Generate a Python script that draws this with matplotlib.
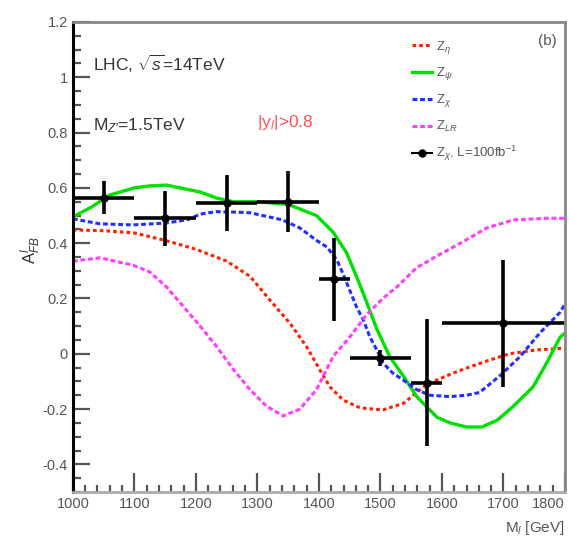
import numpy as np
import matplotlib
matplotlib.use('Agg')
from matplotlib import pyplot as plt
from matplotlib.ticker import MultipleLocator
from matplotlib.lines import Line2D

plt.rcParams['font.family'] = ['Liberation Sans', 'DejaVu Sans']
plt.rcParams['mathtext.fontset'] = 'custom'
plt.rcParams['mathtext.rm'] = 'Liberation Sans'
plt.rcParams['mathtext.it'] = 'Liberation Sans:italic'

# curves
x_eta = [1000, 1050, 1100, 1150, 1200, 1250, 1288, 1320, 1353, 1380, 1402, 1418, 1439,
         1467, 1504, 1537, 1559, 1576, 1597, 1618, 1646, 1673, 1710, 1754, 1800]
y_eta = [0.448, 0.445, 0.437, 0.41, 0.378, 0.335, 0.28, 0.195, 0.11, 0.025, -0.06, -0.12, -0.167,
         -0.196, -0.203, -0.18, -0.14, -0.11, -0.09, -0.07, -0.047, -0.026, 0.0, 0.014, 0.02]

x_psi = [1000, 1030, 1060, 1100, 1125, 1152, 1207, 1234, 1260, 1300, 1350, 1396, 1423, 1445,
         1461, 1477, 1494, 1515, 1537, 1559, 1592, 1613, 1640, 1665, 1690, 1716, 1748, 1771, 1792, 1800]
y_psi = [0.495, 0.53, 0.574, 0.6, 0.607, 0.61, 0.585, 0.563, 0.55, 0.55, 0.54, 0.50, 0.44, 0.365,
         0.28, 0.19, 0.09, -0.01, -0.08, -0.155, -0.23, -0.25, -0.265, -0.265, -0.24, -0.19, -0.12, -0.03, 0.06, 0.075]

x_chi = [1000, 1044, 1098, 1152, 1187, 1207, 1233, 1267, 1288, 1341, 1369, 1396, 1413, 1429,
         1439, 1450, 1461, 1472, 1483, 1494, 1504, 1520, 1537, 1559, 1580, 1613, 1640, 1661,
         1694, 1727, 1759, 1792, 1800]
y_chi = [0.488, 0.47, 0.466, 0.473, 0.485, 0.505, 0.514, 0.512, 0.51, 0.484, 0.455, 0.41, 0.386, 0.34,
         0.29, 0.23, 0.17, 0.123, 0.06, 0.014, -0.033, -0.07, -0.095, -0.13, -0.15, -0.155, -0.15, -0.14,
         -0.08, -0.01, 0.075, 0.15, 0.18]

x_lr = [1000, 1044, 1098, 1125, 1152, 1180, 1207, 1234, 1262, 1288, 1315, 1342, 1369, 1396,
        1423, 1450, 1477, 1504, 1531, 1558, 1597, 1630, 1673, 1716, 1771, 1800]
y_lr = [0.335, 0.347, 0.32, 0.296, 0.242, 0.17, 0.10, 0.025, -0.06, -0.13, -0.19, -0.225, -0.2, -0.13,
        -0.01, 0.06, 0.14, 0.2, 0.25, 0.31, 0.36, 0.40, 0.455, 0.484, 0.49, 0.49]

# pseudo data, Z_chi with L=100 fb^-1
m_bins = [1050, 1150, 1250, 1350, 1425, 1500, 1575, 1700]
m_half = [50, 50, 50, 50, 25, 50, 25, 100]
afb = [0.565, 0.49, 0.545, 0.55, 0.27, -0.015, -0.105, 0.11]
afb_err = [0.06, 0.1, 0.1, 0.11, 0.15, 0.03, 0.23, 0.23]

x_ticks = [1000, 1100, 1200, 1300, 1400, 1500, 1600, 1700, 1800]
y_ticks = [-0.4, -0.2, 0, 0.2, 0.4, 0.6, 0.8, 1, 1.2]
y_ticklabels = ['-0.4', '-0.2', '0', '0.2', '0.4', '0.6', '0.8', '1', '1.2']

labels = [r'Z$_{\eta}$', r'Z$_{\psi}$', r'Z$_{\chi}$', r'Z$_{LR}$', r'Z$_{\chi}$, L=100fb$^{-1}$']

fig = plt.figure(figsize=(5.69, 5.44), dpi=100)
ax = fig.add_axes([0.128, 0.0956, 0.865, 0.864])

ax.plot(x_eta, y_eta, color='#ff2000', lw=2.2, ls=(0, (1.2, 1.0)))
ax.plot(x_psi, y_psi, color='#00e000', lw=2.4)
ax.plot(x_chi, y_chi, color='#2030ff', lw=2.2, ls=(0, (1.6, 0.9)))
ax.plot(x_lr, y_lr, color='#ff40ff', lw=2.2, ls=(0, (1.6, 0.9)))
ax.errorbar(m_bins, afb, xerr=m_half, yerr=afb_err, fmt='o', color='black',
            ms=5, elinewidth=2.6, capsize=0)

ax.set_xlim(1000, 1800)
ax.set_ylim(-0.5, 1.2)
# last x label would sit across the figure edge, so it is drawn apart, right aligned
ax.set_xticks(x_ticks, [str(t) for t in x_ticks[:-1]] + [''])
ax.xaxis.set_minor_locator(MultipleLocator(20))
ax.set_yticks(y_ticks, y_ticklabels)
ax.yaxis.set_minor_locator(MultipleLocator(0.05))
ax.tick_params(which='both', direction='in', labelsize=10.5, colors='#555555', labelcolor='#555555')
ax.tick_params(which='major', length=12, width=1.6)
ax.tick_params(which='minor', length=6, width=1.6)
ax.tick_params(axis='x', which='major', length=14)
ax.tick_params(axis='x', which='minor', length=5)
ax.text(x_ticks[-1], -0.5, str(x_ticks[-1]), transform=ax.transData, fontsize=10.5,
        color='#555555', ha='right', va='top').set_y(-0.518)
for s in ['top', 'right']:
    ax.spines[s].set_color('#888888')
    ax.spines[s].set_linewidth(2.0)
ax.spines['left'].set_color('black')
ax.spines['left'].set_linewidth(2.2)
ax.spines['bottom'].set_color('#aaaaaa')
ax.spines['bottom'].set_linewidth(2.0)

ax.set_xlabel(r'M$_{l}$ [GeV]', fontsize=11, color='#555555', loc='right', labelpad=6)
fig.text(0.055, 0.54, r'A$^{l}_{FB}$', rotation=90, fontsize=12, color='#333333',
         ha='center', va='center')

ax.text(0.04, 0.91, r'LHC, $\sqrt{s}$=14TeV', transform=ax.transAxes, fontsize=12.5,
        color='#333333', va='center')
ax.text(0.04, 0.78, r'M$_{Z\prime}$=1.5TeV', transform=ax.transAxes, fontsize=12.5,
        color='#333333', va='center')
ax.text(0.375, 0.787, r'|y$_{l}$|>0.8', transform=ax.transAxes, fontsize=12.5,
        color='#ff5050', va='center')
ax.text(0.945, 0.96, '(b)', transform=ax.transAxes, fontsize=11, color='#555555', va='center')

handles = [
    Line2D([], [], color='#ff2000', lw=2.2, ls=(0, (1.2, 1.0))),
    Line2D([], [], color='#00e000', lw=2.4),
    Line2D([], [], color='#2030ff', lw=2.2, ls=(0, (1.6, 0.9))),
    Line2D([], [], color='#ff40ff', lw=2.2, ls=(0, (1.6, 0.9))),
    Line2D([], [], color='black', marker='o', ms=5, lw=1.5),
]
ax.legend(handles, labels, loc='upper left', bbox_to_anchor=(0.665, 0.99), frameon=False,
          fontsize=9.5, handlelength=1.5, handletextpad=0.3, labelspacing=0.75, labelcolor='#555555')

fig.savefig('out.png', dpi=100)
